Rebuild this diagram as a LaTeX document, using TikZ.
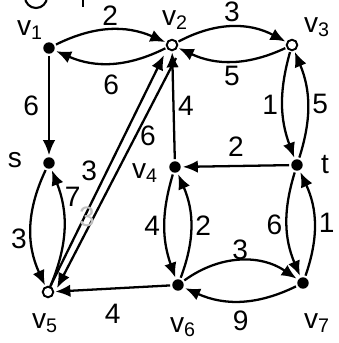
\documentclass[tikz,border=0pt]{standalone}
\usepackage{fontspec}
\setmainfont{Liberation Sans}
\usetikzlibrary{arrows.meta}
\newcommand{\vlab}[1]{v\textsubscript{#1}}

\begin{document}
\begin{tikzpicture}[x=0.02cm, y=-0.02cm, line width=1.3pt,
      every node/.style={font=\fontsize{16}{18}\selectfont},
      dot/.style={circle, fill=black, inner sep=0pt, minimum size=6.5pt, outer sep=1.2pt},
      ring/.style={circle, draw=black, line width=1.1pt, inner sep=0pt, minimum size=6pt, outer sep=1.2pt},
      arr/.style={-{Latex[length=3mm, width=2.5mm]}, line width=1.3pt},
      wt/.style={inner sep=2pt}]
    \useasboundingbox (0,0) rectangle (339,343);
    % cut-off heading marks
    \draw[line width=1.2pt] (47,-3) arc[start angle=0, end angle=180, radius=11];
    \draw[line width=1.2pt] (83,-5) -- (83,7);
    % vertices
    \node[dot] (v1) at (49,48) {};
    \node[ring] (v2) at (172,45) {};
    \node[ring] (v3) at (292,45) {};
    \node[dot] (s) at (49,163) {};
    \node[dot] (v4) at (175,167) {};
    \node[dot] (t) at (297,165) {};
    \node[ring] (v5) at (48,292) {};
    \node[dot] (v6) at (178,285) {};
    \node[dot] (v7) at (303,283) {};
    % vertex names
    \node (l1) at (30,30) {\vlab{1}};
    \node (l2) at (175,20) {\vlab{2}};
    \node (l3) at (317,27) {\vlab{3}};
    \node (ls) at (15,160) {s};
    \node (l4) at (145,173) {\vlab{4}};
    \node (lt) at (325,165) {t};
    \node (l5) at (45,323) {\vlab{5}};
    \node (l6) at (183,327) {\vlab{6}};
    \node (l7) at (317,323) {\vlab{7}};
    % edges
    \draw[arr] (v1) to[bend left=25] node[wt, above] {2} (v2);
    \draw[arr] (v2) to[bend left=25] node[wt, below=4pt] {6} (v1);
    \draw[arr] (v2) to[bend left=28] node[wt, above] {3} (v3);
    \draw[arr] (v3) to[bend left=25] node[wt, below] {5} (v2);
    \draw[arr] (v3) to[bend right=18] node[wt, left] {1} (t);
    \draw[arr] (t) to[bend right=20] node[wt, right] {5} (v3);
    \draw[arr] (t) -- node[wt, above=3pt] {2} (v4);
    \draw[arr] (v4) -- node[wt, right] {4} (v2);
    \draw[arr] (v1) -- node[wt, left=3pt] {6} (s);
    \draw[arr] (s) to[bend right=25] node[wt, left, pos=0.6] {3} (v5);
    \draw[arr] (v5) to[bend right=22] node[wt, right, pos=0.78] {7} (s);
    \draw[arr] ([shift={(2,-5)}]v5.center) -- node[wt, left=3pt, pos=0.5] {3} ([shift={(-8,10)}]v2.center);
    \draw[arr] ([shift={(4,13)}]v2.center) -- node[wt, right, pos=0.34] {6} ([shift={(9,-4)}]v5.center);
    \node[text=black!25] (ghost) at (87,217) {3};
    \draw[arr] (v6) to[bend right=22] node[wt, right] {2} (v4);
    \draw[arr] (v4) to[bend right=18] node[wt, left] {4} (v6);
    \draw[arr] (v6) -- node[wt, below=6pt] {4} (v5);
    \draw[arr] (v6) to[bend left=35] node[wt, above=-2pt] {3} (v7);
    \draw[arr] (v7) to[bend left=25] node[wt, below=3pt] {9} (v6);
    \draw[arr] (t) to[bend right=20] node[wt, left] {6} (v7);
    \draw[arr] (v7) to[bend right=22] node[wt, right] {1} (t);
  \end{tikzpicture}
\end{document}
